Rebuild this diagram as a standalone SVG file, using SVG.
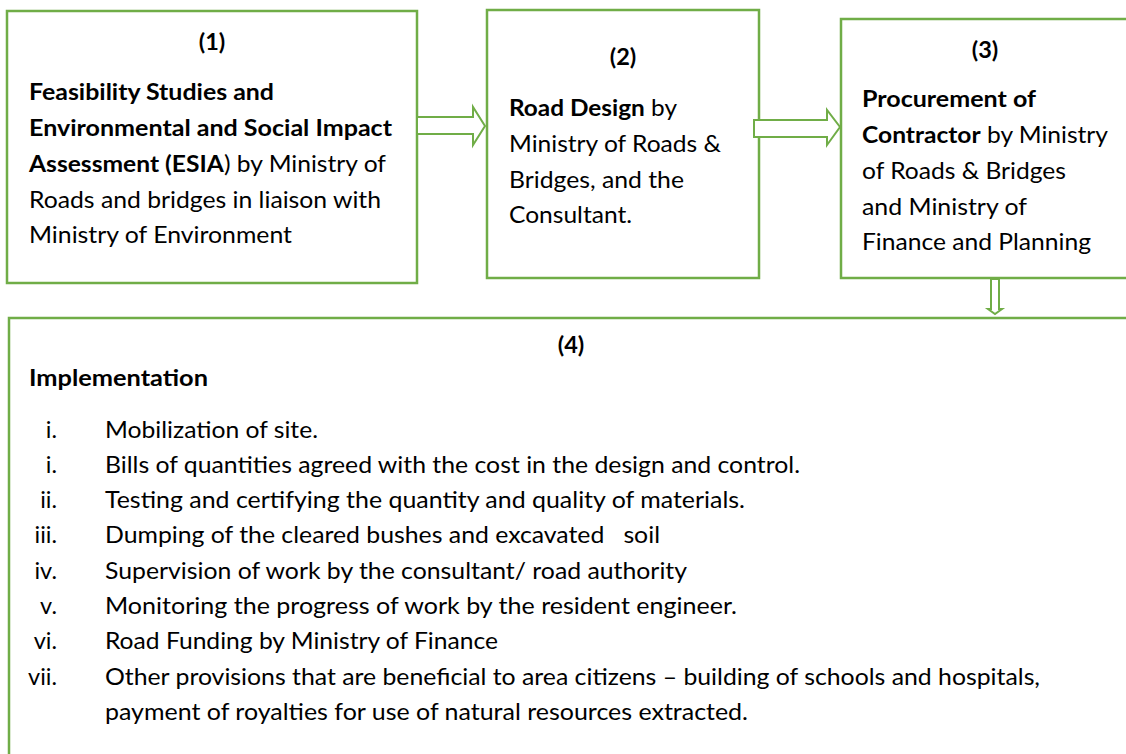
<svg xmlns="http://www.w3.org/2000/svg" width="1126" height="754" viewBox="0 0 1126 754">
  <style>
    .box { fill: #ffffff; stroke: #70AD47; stroke-width: 2.5; }
    .arrow { fill: #ffffff; stroke: #70AD47; stroke-width: 2; stroke-linejoin: miter; }
    text { font-family: Lato, "Liberation Sans", sans-serif; font-size: 23.5px; fill: #000000; }
    .b { font-weight: bold; }
    .num { text-anchor: end; }
    .c { text-anchor: middle; font-weight: bold; }
  </style>
  <rect width="1126" height="754" fill="#ffffff"/>

  <!-- Step 1 -->
  <g id="step1">
    <rect class="box" x="7" y="11" width="410" height="272"/>
    <text class="c" x="212" y="50">(1)</text>
    <text x="29" y="100" class="b" textLength="245" lengthAdjust="spacingAndGlyphs">Feasibility Studies and</text>
    <text x="29" y="136" class="b" textLength="363" lengthAdjust="spacingAndGlyphs">Environmental and Social Impact</text>
    <text x="29" y="172" textLength="357" lengthAdjust="spacingAndGlyphs"><tspan class="b">Assessment (ESIA</tspan>) by Ministry of</text>
    <text x="29" y="208" textLength="352" lengthAdjust="spacingAndGlyphs">Roads and bridges in liaison with</text>
    <text x="29" y="243" textLength="263" lengthAdjust="spacingAndGlyphs">Ministry of Environment</text>
  </g>

  <!-- Step 2 -->
  <g id="step2">
    <rect class="box" x="487" y="10" width="272" height="268"/>
    <text class="c" x="623" y="65">(2)</text>
    <text x="509" y="116" textLength="168" lengthAdjust="spacingAndGlyphs"><tspan class="b">Road Design</tspan> by</text>
    <text x="509" y="152" textLength="212" lengthAdjust="spacingAndGlyphs">Ministry of Roads &amp;</text>
    <text x="509" y="188" textLength="175" lengthAdjust="spacingAndGlyphs">Bridges, and the</text>
    <text x="509" y="223" textLength="123" lengthAdjust="spacingAndGlyphs">Consultant.</text>
  </g>

  <!-- Step 3 -->
  <g id="step3">
    <rect class="box" x="841" y="19" width="320" height="259"/>
    <text class="c" x="985" y="58">(3)</text>
    <text x="862" y="107" class="b" textLength="174" lengthAdjust="spacingAndGlyphs">Procurement of</text>
    <text x="862" y="143" textLength="246" lengthAdjust="spacingAndGlyphs"><tspan class="b">Contractor</tspan> by Ministry</text>
    <text x="862" y="179" textLength="204" lengthAdjust="spacingAndGlyphs">of Roads &amp; Bridges</text>
    <text x="862" y="215" textLength="165" lengthAdjust="spacingAndGlyphs">and Ministry of</text>
    <text x="862" y="250" textLength="229" lengthAdjust="spacingAndGlyphs">Finance and Planning</text>
  </g>

  <!-- Step 4 -->
  <g id="step4">
    <rect class="box" x="9" y="318" width="1200" height="500"/>
    <text class="c" x="571" y="353">(4)</text>
    <text x="29" y="386" class="b" textLength="179" lengthAdjust="spacingAndGlyphs">Implementation</text>

    <text class="num" x="57" y="438">i.</text>
    <text x="105" y="438" textLength="213" lengthAdjust="spacingAndGlyphs">Mobilization of site.</text>

    <text class="num" x="57" y="473">i.</text>
    <text x="105" y="473" textLength="695" lengthAdjust="spacingAndGlyphs">Bills of quantities agreed with the cost in the design and control.</text>

    <text class="num" x="57" y="508">ii.</text>
    <text x="105" y="508" textLength="640" lengthAdjust="spacingAndGlyphs">Testing and certifying the quantity and quality of materials.</text>

    <text class="num" x="57" y="543">iii.</text>
    <text x="105" y="543" textLength="555" lengthAdjust="spacingAndGlyphs" xml:space="preserve">Dumping of the cleared bushes and excavated   soil</text>

    <text class="num" x="57" y="579">iv.</text>
    <text x="105" y="579" textLength="582" lengthAdjust="spacingAndGlyphs">Supervision of work by the consultant/ road authority</text>

    <text class="num" x="57" y="614">v.</text>
    <text x="105" y="614" textLength="632" lengthAdjust="spacingAndGlyphs">Monitoring the progress of work by the resident engineer.</text>

    <text class="num" x="57" y="649">vi.</text>
    <text x="105" y="649" textLength="393" lengthAdjust="spacingAndGlyphs">Road Funding by Ministry of Finance</text>

    <text class="num" x="57" y="685">vii.</text>
    <text x="105" y="685" textLength="935" lengthAdjust="spacingAndGlyphs">Other provisions that are beneficial to area citizens – building of schools and hospitals,</text>
    <text x="105" y="720" textLength="643" lengthAdjust="spacingAndGlyphs">payment of royalties for use of natural resources extracted.</text>
  </g>

  <!-- Block arrows between the steps -->
  <g id="connectors">
    <polygon class="arrow" points="417,117 473,117 473,107 485,126 473,145 473,134 417,134"/>
    <polygon class="arrow" points="754,120 827,120 827,110 840,127 827,145 827,137 754,137"/>
    <polygon class="arrow" stroke-width="1.6" points="991,279 999,279 999,309 1002,309 995,314 988,309 991,309"/>
  </g>
</svg>
